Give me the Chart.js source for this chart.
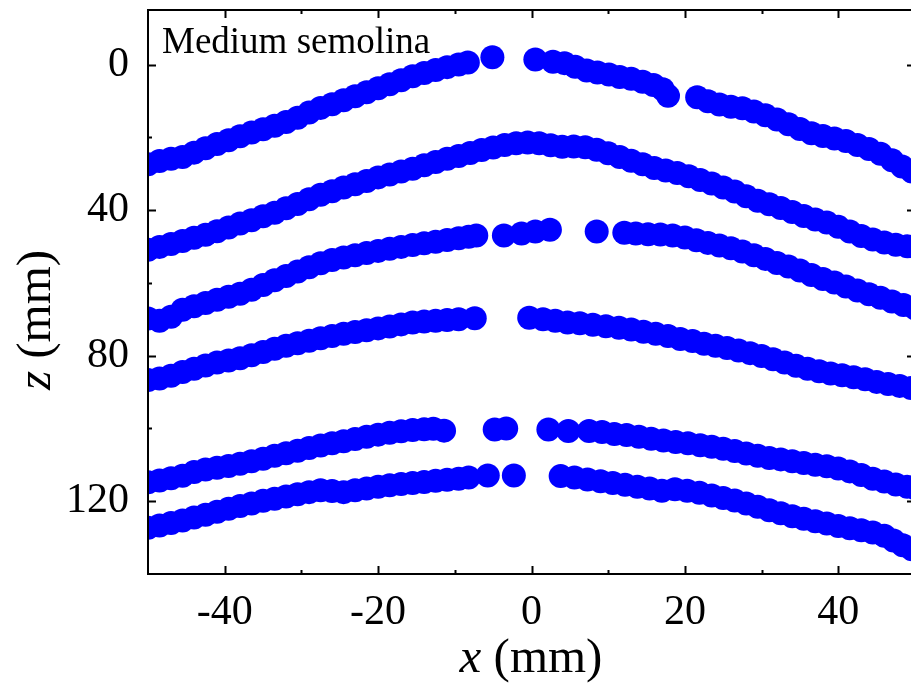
<!DOCTYPE html>
<html>
<head>
<meta charset="utf-8">
<script src="https://cdn.jsdelivr.net/npm/chart.js@4.4.1/dist/chart.umd.min.js"></script>
<style>
    html, body { margin: 0; padding: 0; background: #fff; overflow: hidden; }
    #grafico { display: block; }
</style>
</head>
<body>
<canvas id="grafico" width="920" height="684"></canvas>
<script>
// Ticks de los ejes
const xTicks = [-40, -20, 0, 20, 40];
const xMinor = [-30, -10, 10, 30];
const zTicks = [0, 40, 80, 120];
const zMinor = [20, 60, 100];

// Perfiles (x en mm, z en mm)
const x1 = [-50, -48.5, -47, -45.5, -44, -42.5, -41, -39.5, -38, -36.5, -35, -33.5, -32, -30.5, -29, -27.5, -26, -24.5, -23, -21.5, -20, -18.5, -17, -15.5, -14, -12.5, -11, -9.5, -8.3, -5.1,
    0.5, 2.8, 4.3, 5.7, 7.2, 8.6, 10.1, 11.5, 13, 14.5, 15.9, 17.1, 17.8,
    21.6, 23, 24.5, 26, 27.5, 29, 30.5, 32, 33.5, 35, 36.5, 38, 39.5, 41, 42.5, 44, 45.5, 47, 48.3, 49.6];
const z1 = [27.4, 26.5, 25.9, 25.4, 24.2, 23.0, 21.8, 20.8, 19.7, 18.7, 17.8, 16.8, 15.8, 14.6, 13.2, 11.9, 10.9, 9.8, 8.7, 7.6, 6.5, 5.4, 4.3, 3.2, 2.3, 1.5, 0.7, 0.0, -0.6, -2.0,
    -1.4, -0.8, -0.4, 0.6, 1.6, 2.2, 2.7, 3.4, 3.9, 4.7, 5.6, 6.8, 8.6,
    9.0, 10.1, 11.0, 11.6, 12.0, 12.9, 13.9, 15.1, 16.4, 17.7, 18.9, 19.6, 20.3, 21.0, 22.1, 23.2, 24.5, 26.3, 28.0, 29.4];

const x2 = [-50, -48.5, -47, -45.5, -44, -42.5, -41, -39.5, -38, -36.5, -35, -33.5, -32, -30.5, -29, -27.5, -26, -24.5, -23, -21.5,
    -20, -18.5, -17, -15.5, -14, -12.5, -11, -9.5, -8, -6.5, -5, -3.5, -2, -0.5, 1, 2.5, 4, 5.5, 7, 8.5,
    10, 11.5, 13, 14.5, 16, 17.5, 19, 20.5, 22, 23.5, 25, 26.5, 28, 29.5, 31, 32.5, 34, 35.5, 37, 38.5,
    40, 41.5, 43, 44.5, 46, 47.5, 49, 50];
const z2 = [50.9, 50.1, 49.3, 48.5, 47.6, 46.8, 45.8, 44.8, 43.7, 42.8, 41.7, 40.7, 39.5, 38.3, 37.0, 35.8, 34.8, 33.8, 32.9, 32.0,
    31.0, 30.2, 29.4, 28.6, 27.7, 26.8, 25.9, 25.1, 24.3, 23.5, 22.8, 22.1, 21.6, 21.4, 21.6, 22.2, 22.6, 22.5, 22.7, 23.4,
    24.4, 25.4, 26.4, 27.4, 28.4, 29.1, 29.8, 30.7, 31.7, 32.7, 33.8, 34.9, 36.2, 37.4, 38.4, 39.4, 40.5, 41.6, 42.6, 43.4,
    44.6, 45.9, 47.1, 48.1, 48.9, 49.5, 49.9, 50.1];

const x3 = [-50, -48.5, -47, -45.5, -44, -42.5, -41, -39.5, -38, -36.5, -35, -33.5, -32, -30.5, -29, -27.5, -26, -24.5, -23, -21.5, -20, -18.5, -17, -15.5, -14, -12.5, -11, -9.5, -8.2, -7.2,
    -3.6, -1.3, 0.5, 2.4,
    8.5, 12.1, 13.6, 15.2, 16.8, 18.4, 20.0, 21.5, 23.0, 24.5, 26.0, 27.5, 29.0, 30.5, 32.0, 33.5, 35.0, 36.5, 38.0, 39.5, 41.0, 42.5, 44.0, 45.5, 47.0, 48.5, 50.0];
const z3 = [69.8, 70.4, 69.3, 67.4, 66.4, 65.5, 64.6, 63.8, 63.0, 61.9, 60.6, 59.3, 58.1, 56.9, 55.7, 54.6, 53.7, 53.0, 52.4, 51.8, 51.2, 50.6, 50.1, 49.6, 49.1, 48.7, 48.2, 47.7, 47.3, 47.0,
    47.0, 46.4, 45.9, 45.4,
    45.9, 46.2, 46.4, 46.6, 46.7, 47.0, 47.5, 48.3, 49.0, 49.7, 50.5, 51.4, 52.4, 53.4, 54.5, 55.5, 56.6, 57.8, 58.9, 59.9, 61.0, 62.1, 63.1, 64.1, 65.1, 66.1, 67.0];

const x4 = [-50, -48.5, -47, -45.5, -44, -42.5, -41, -39.5, -38, -36.5, -35, -33.5, -32, -30.5, -29, -27.5, -26, -24.5, -23, -21.5, -20, -18.5, -17, -15.5, -14, -12.5, -11, -9.5, -7.4,
    -0.3, 1.5, 3.1, 4.7, 6.3, 8.0, 9.7, 11.4, 13.0, 14.6, 16.2, 17.8, 19.4, 21.0, 22.5, 24.0, 25.5, 27.0, 28.5, 30.0, 31.5, 33.0, 34.5, 36.0, 37.5, 39.0, 40.5, 42.0, 43.5, 45.0, 46.5, 48.0, 49.5];
const z4 = [86.7, 86.3, 85.5, 84.5, 83.6, 82.7, 81.9, 81.3, 80.7, 79.9, 79.0, 78.1, 77.3, 76.6, 75.9, 75.2, 74.6, 74.0, 73.5, 73.0, 72.5, 72.0, 71.4, 70.9, 70.6, 70.4, 70.2, 70.0, 69.7,
    69.6, 70.0, 70.4, 70.9, 71.1, 71.5, 71.9, 72.3, 72.8, 73.4, 74.0, 74.6, 75.4, 76.0, 76.7, 77.3, 77.9, 78.6, 79.3, 80.1, 81.0, 81.9, 82.8, 83.6, 84.3, 84.9, 85.4, 85.9, 86.5, 87.2, 87.8, 88.3, 88.9];

const x5 = [-50, -48.5, -47, -45.5, -44, -42.5, -41, -39.5, -38, -36.5, -35, -33.5, -32, -30.5, -29, -27.5, -26, -24.5, -23, -21.5, -20, -18.5, -17, -15.5, -14, -12.8, -11.4,
    -4.8, -3.3,
    2.2, 4.8, 7.5, 9.2, 10.8, 12.4, 14.0, 15.6, 17.2, 18.8, 20.4, 22.0, 23.5, 25.0, 26.5, 28.0, 29.5, 31.0, 32.5, 34.0, 35.5, 37.0, 38.5, 40.0, 41.5, 43.0, 44.5, 46.0, 47.5, 49.0, 50.0];
const z5 = [114.8, 114.3, 113.7, 113.0, 112.0, 111.3, 110.8, 110.3, 109.7, 109.0, 108.3, 107.5, 106.8, 106.1, 105.4, 104.7, 104.1, 103.5, 102.9, 102.3, 101.7, 101.2, 100.8, 100.4, 100.2, 100.1, 100.6,
    100.3, 100.0,
    100.3, 100.7, 100.7, 101.0, 101.5, 101.8, 102.3, 102.8, 103.3, 103.7, 104.1, 104.6, 105.0, 105.6, 106.2, 106.9, 107.5, 108.1, 108.5, 109.0, 109.5, 110.0, 110.4, 111.0, 111.8, 112.8, 113.8, 114.6, 115.4, 116.0, 116.4];

const x6 = [-50, -48.5, -47, -45.5, -44, -42.5, -41, -39.5, -38, -36.5, -35, -33.5, -32, -30.5, -29, -27.5, -26, -24.5, -23, -21.5, -20, -18.5, -17, -15.5, -14, -12.5, -11, -9.5, -8.2, -5.7,
    -2.3,
    3.8, 5.6, 7.3, 9.0, 10.6, 12.2, 13.8, 15.4, 17.0, 18.7, 20.3, 21.9, 23.5, 25.0, 26.5, 28.0, 29.5, 31.0, 32.5, 34.0, 35.5, 37.0, 38.5, 40.0, 41.5, 43.0, 44.5, 46.0, 47.2, 48.4, 49.6];
const z6 = [127.3, 126.7, 126.0, 125.3, 124.5, 123.7, 122.9, 122.1, 121.3, 120.6, 119.9, 119.3, 118.7, 118.1, 117.5, 117.0, 117.2, 117.5, 117.0, 116.5, 116.0, 115.6, 115.3, 115.0, 114.7, 114.4, 114.1, 113.8, 113.5, 112.9,
    112.9,
    113.1, 113.5, 114.0, 114.5, 115.0, 115.5, 116.0, 116.5, 117.1, 116.7, 117.1, 117.7, 118.4, 119.1, 119.8, 120.6, 121.5, 122.5, 123.3, 124.1, 124.8, 125.5, 126.1, 126.8, 127.4, 128.0, 128.6, 129.5, 130.8, 132.1, 133.2];

const perfiles = [[x1, z1], [x2, z2], [x3, z3], [x4, z4], [x5, z5], [x6, z6]];

const fuente = "'Liberation Serif', 'Times New Roman', serif";

// Marco con ticks hacia dentro y textos de la figura
const marco = {
    id: 'marco',
    afterDatasetsDraw(chart) {
        const { ctx, chartArea: a, scales: { x, y } } = chart;
        ctx.save();
        ctx.strokeStyle = '#000';
        ctx.lineWidth = 2;
        ctx.strokeRect(a.left, a.top, a.right - a.left, a.bottom - a.top);

        ctx.beginPath();
        xTicks.concat(xMinor).forEach(v => {
            const px = Math.round(x.getPixelForValue(v)) + 0.5;
            const len = xTicks.includes(v) ? 8 : 4;
            ctx.moveTo(px, a.bottom); ctx.lineTo(px, a.bottom - len);
            ctx.moveTo(px, a.top); ctx.lineTo(px, a.top + len);
        });
        zTicks.concat(zMinor).forEach(v => {
            const py = Math.round(y.getPixelForValue(v)) + 0.5;
            const len = zTicks.includes(v) ? 8 : 4;
            ctx.moveTo(a.left, py); ctx.lineTo(a.left + len, py);
            ctx.moveTo(a.right, py); ctx.lineTo(a.right - len, py);
        });
        ctx.stroke();

        // Etiqueta dentro del gráfico
        ctx.fillStyle = '#000';
        ctx.textBaseline = 'alphabetic';
        ctx.textAlign = 'left';
        ctx.font = '37px ' + fuente;
        ctx.fillText('Medium semolina', 162, 53);

        // Título eje x: "x (mm)" con x en cursiva
        ctx.font = 'italic 49px ' + fuente;
        const wx = ctx.measureText('x').width;
        ctx.font = '49px ' + fuente;
        const wr = ctx.measureText(' (mm)').width;
        let x0 = 531 - (wx + wr) / 2;
        ctx.font = 'italic 49px ' + fuente;
        ctx.fillText('x', x0, 672);
        ctx.font = '49px ' + fuente;
        ctx.fillText(' (mm)', x0 + wx, 672);

        // Título eje z (rotado)
        ctx.translate(50, 320);
        ctx.rotate(-Math.PI / 2);
        ctx.font = 'italic 49px ' + fuente;
        const wz = ctx.measureText('z').width;
        x0 = -(wz + wr) / 2;
        ctx.fillText('z', x0, 0);
        ctx.font = '49px ' + fuente;
        ctx.fillText(' (mm)', x0 + wz, 0);
        ctx.restore();
    }
};

new Chart(document.getElementById('grafico'), {
    type: 'scatter',
    data: {
        datasets: perfiles.map(([xs, zs], i) => ({
            label: 'Perfil ' + (i + 1),
            data: xs.map((v, k) => ({ x: v, y: zs[k] })),
            pointRadius: 12,
            pointHoverRadius: 12,
            pointBorderWidth: 0,
            backgroundColor: '#0000ff',
            borderColor: '#0000ff',
            clip: 0
        }))
    },
    options: {
        responsive: false,
        animation: false,
        layout: { autoPadding: false, padding: { top: 10, right: 5, left: 0, bottom: 0 } },
        plugins: {
            legend: { display: false },
            tooltip: { enabled: false }
        },
        scales: {
            x: {
                type: 'linear',
                min: -50,
                max: 50,
                grid: { display: false },
                border: { display: false },
                afterBuildTicks: s => { s.ticks = xTicks.map(v => ({ value: v })); },
                afterFit: s => { s.height = 110; s.paddingLeft = 0; s.paddingRight = 0; },
                ticks: { color: '#000', font: { family: fuente, size: 42 }, padding: 6, maxRotation: 0, autoSkip: false }
            },
            y: {
                type: 'linear',
                reverse: true,
                min: -15,
                max: 140,
                grid: { display: false },
                border: { display: false },
                afterBuildTicks: s => { s.ticks = zTicks.map(v => ({ value: v })); },
                afterFit: s => { s.width = 148; s.paddingTop = 0; s.paddingBottom = 0; },
                ticks: { color: '#000', font: { family: fuente, size: 42 }, padding: 11, autoSkip: false }
            }
        }
    },
    plugins: [marco]
});
</script>
</body>
</html>
